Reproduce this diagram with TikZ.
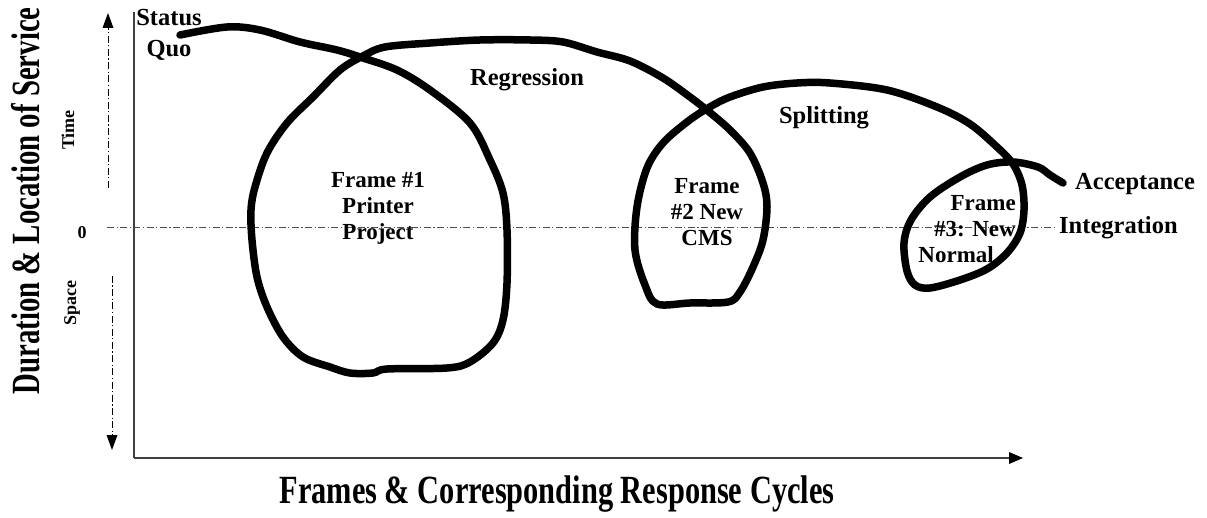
\documentclass[tikz,border=0pt]{standalone}
\usepackage{fontspec}
\setmainfont{Liberation Serif}
\begin{document}
\begin{tikzpicture}[x=1pt,y=-1pt,
  lbl/.style={font=\bfseries\fontsize{24.5}{31}\selectfont, inner sep=0pt},
  framelbl/.style={font=\bfseries\fontsize{23}{26}\selectfont, align=center, inner sep=0pt},
  smalllbl/.style={font=\bfseries\fontsize{18}{20}\selectfont, inner sep=0pt},
  axisline/.style={draw=black!75, line width=1.3pt},
  dashdot/.style={draw=black!70, line width=0.8pt, dash pattern=on 7pt off 2.5pt on 1.2pt off 2.5pt},
  journey/.style={line width=7.5pt, line cap=round, line join=round},
  headfill/.style={fill=black}
]
\useasboundingbox (0,0) rectangle (1207,518);

% axes
\coordinate (origin) at (134,458);
\coordinate (ytop) at (134,12);
\coordinate (xend) at (1023,458);
\draw[axisline] (ytop) -- (origin);
\draw[axisline] (origin) -- ([xshift=-12pt]xend);
\fill[headfill] (xend) -- ++(-14,-6) -- ++(0,12) -- cycle;

% zero line
\coordinate (zl) at (107,227);
\coordinate (zr) at (1056,227);
\draw[dashdot] (zl) -- (zr);

% time / space arrows
\coordinate (tbot) at (108,188);
\coordinate (ttop) at (108,13);
\coordinate (stop) at (112,276);
\coordinate (sbot) at (112,450);
\draw[dashdot, black] (tbot) -- ([yshift=-12pt]ttop);
\fill[headfill] (ttop) -- ++(-5.5,15) -- ++(11,0) -- cycle;
\draw[dashdot, black] (stop) -- ([yshift=12pt]sbot);
\fill[headfill] (sbot) -- ++(-5.5,-15) -- ++(11,0) -- cycle;

% axis labels
\node[rotate=90, font=\bfseries\fontsize{40}{44}\selectfont, inner sep=0pt] (ylab) at (26,201)
  {\scalebox{0.72}[1]{Duration \& Location of Service}};
\node[font=\bfseries\fontsize{40}{44}\selectfont, inner sep=0pt] (xlab) at (557,494)
  {\scalebox{0.76}[1]{Frames \& Corresponding Response Cycles}};
\node[smalllbl, rotate=90] (time) at (68,130) {Time};
\node[smalllbl, rotate=90] (space) at (72,303) {Space};
\node[smalllbl] (zero) at (82,233) {0};

% response path
\draw[journey] plot[smooth, tension=0.55] coordinates {
  (180,35) (227,27) (260,30) (300,42) (337,50) (363,58) (397,70) (430,90)
  (470,123) (490,160) (503,193) (507,230) (507,283) (503,320) (493,343)
  (470,362) (447,368) (387,369) (373,373) (350,373) (330,367) (303,357)
  (283,337) (267,307) (257,277) (252,240) (251,210) (255,187) (267,153)
  (287,123) (313,97) (340,70) (363,56) (385,47) (430,43) (480,40) (530,40)
  (563,42) (597,52) (630,61) (663,78) (690,97) (708,111) (730,130)
  (750,153) (763,183) (767,207) (763,240) (753,267) (740,292) (728,302)
  (690,303) (657,304) (645,285) (635,250) (637,207) (647,168) (663,143)
  (687,122) (708,108) (730,97) (763,87) (797,83) (830,83) (887,90)
  (937,107) (970,124) (997,147) (1013,164) (1022,185) (1024,210)
  (1020,233) (1007,253) (987,269) (960,280) (930,288) (915,285)
  (907,271) (904,243) (911,220) (930,197) (960,177) (987,165) (1013,162)
  (1038,167) (1050,175) (1063,183)
};

% labels along the path
\node[lbl, align=center] (sq) at (169,35) {Status\\Quo};
\node[lbl] (reg) at (527,80) {Regression};
\node[lbl] (split) at (824,118) {Splitting};
\node[lbl, anchor=west] (acc) at (1075,184) {Acceptance};
\node[lbl, anchor=west] (integ) at (1059,228) {Integration};

% frame labels
\node[framelbl] (f1) at (378,208) {Frame \#1\\Printer\\Project};
\node[framelbl] (f2) at (707,212) {Frame\\\#2 New\\CMS};
\node[framelbl, align=right, anchor=east] (f3) at (1016,229) {Frame\\\#3: New\\Normal\hspace*{22pt}};
\end{tikzpicture}
\end{document}
